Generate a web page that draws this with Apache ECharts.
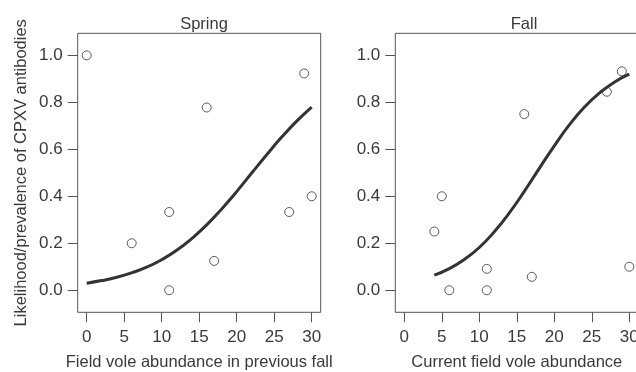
<!DOCTYPE html>
<html>
<head>
<meta charset="utf-8">
<script src="https://cdn.jsdelivr.net/npm/echarts@6/dist/echarts.min.js"></script>
<style>
  html, body { margin: 0; padding: 0; background: #fff; }
  #main { width: 636px; height: 372px; }
</style>
</head>
<body>
<div id="main"></div>
<script>
// observed points (abundance, prevalence)
var springX = [0, 6, 11, 11, 16, 17, 27, 29, 30];
var springY = [1.0, 0.2, 0.333, 0.0, 0.778, 0.125, 0.333, 0.923, 0.4];
var fallX = [4, 5, 6, 11, 11, 16, 17, 27, 29, 30];
var fallY = [0.25, 0.4, 0.0, 0.091, 0.0, 0.75, 0.057, 0.845, 0.932, 0.1];

// fitted curves
var springCurveX = [0, 2, 4, 6, 8, 10, 12, 14, 16, 18, 20, 22, 24, 26, 28, 30];
var springCurveY = [0.03, 0.041, 0.055, 0.074, 0.098, 0.13, 0.17, 0.22, 0.278, 0.346, 0.42, 0.499, 0.577, 0.652, 0.72, 0.78];
var fallCurveX = [4, 6, 8, 10, 12, 14, 16, 18, 20, 22, 24, 26, 28, 30];
var fallCurveY = [0.064, 0.092, 0.131, 0.182, 0.249, 0.329, 0.421, 0.519, 0.615, 0.704, 0.779, 0.839, 0.886, 0.92];

var xTicks = [0, 5, 10, 15, 20, 25, 30];
var yTicks = [0, 0.2, 0.4, 0.6, 0.8, 1.0];

var titles = ['Spring', 'Fall'];
var xNames = ['Field vole abundance in previous fall', 'Current field vole abundance'];
var yName = 'Likelihood/prevalence of CPXV antibodies';

var FONT = 'Liberation Sans, Arial, sans-serif';
var TXT = '#3a3a3a';

function pairs(xs, ys) {
	var out = [];
	for (var i = 0; i < xs.length; i++) out.push([xs[i], ys[i]]);
	return out;
}

var grids = [
	{ left: 77.7, top: 33.3, width: 243, height: 279 },
	{ left: 395.3, top: 33.3, width: 243, height: 279 }
];

var xAxes = [], yAxes = [], gridOpts = [];
for (var g = 0; g < 2; g++) {
	gridOpts.push({
		left: grids[g].left, top: grids[g].top, width: grids[g].width, height: grids[g].height,
		containLabel: false, outerBoundsMode: 'none',
		show: true, borderColor: '#555', borderWidth: 1, backgroundColor: 'transparent'
	});
	xAxes.push({
		type: 'value', gridIndex: g, min: -1.2, max: 31.2,
		name: xNames[g], nameLocation: 'middle', nameGap: 42,
		nameTextStyle: { fontFamily: FONT, fontSize: 16.5, color: TXT },
		axisLine: { show: false, onZero: false },
		splitLine: { show: false },
		axisTick: { show: true, inside: false, length: 10, customValues: xTicks, lineStyle: { color: '#555', width: 1 } },
		axisLabel: { customValues: xTicks, margin: 17, fontFamily: FONT, fontSize: 17, color: TXT }
	});
	yAxes.push({
		type: 'value', gridIndex: g, min: -0.094, max: 1.094,
		name: g === 0 ? yName : '', nameLocation: 'middle', nameGap: 48,
		nameTextStyle: { fontFamily: FONT, fontSize: 16.5, color: TXT },
		axisLine: { show: false, onZero: false },
		splitLine: { show: false },
		axisTick: { show: true, inside: false, length: 10, customValues: yTicks, lineStyle: { color: '#555', width: 1 } },
		axisLabel: {
			customValues: yTicks, margin: 15, fontFamily: FONT, fontSize: 17, color: TXT,
			formatter: function(v) { return Number(v).toFixed(1); }
		}
	});
}

var pointStyle = { color: 'transparent', borderColor: '#333', borderWidth: 1 };
var curveStyle = { color: '#333', width: 3 };

var option = {
	backgroundColor: '#fff',
	animation: false,
	title: [
		{ text: titles[0], left: 199, top: 11, textAlign: 'center', textStyle: { fontFamily: FONT, fontSize: 16.5, fontWeight: 'normal', color: TXT } },
		{ text: titles[1], left: 519, top: 11, textAlign: 'center', textStyle: { fontFamily: FONT, fontSize: 16.5, fontWeight: 'normal', color: TXT } }
	],
	grid: gridOpts,
	xAxis: xAxes,
	yAxis: yAxes,
	series: [
		{ type: 'scatter', xAxisIndex: 0, yAxisIndex: 0, data: pairs(springX, springY), symbol: 'circle', symbolSize: 9, itemStyle: pointStyle, z: 2 },
		{ type: 'line', xAxisIndex: 0, yAxisIndex: 0, data: pairs(springCurveX, springCurveY), smooth: true, showSymbol: false, lineStyle: curveStyle, z: 3 },
		{ type: 'scatter', xAxisIndex: 1, yAxisIndex: 1, data: pairs(fallX, fallY), symbol: 'circle', symbolSize: 9, itemStyle: pointStyle, z: 2 },
		{ type: 'line', xAxisIndex: 1, yAxisIndex: 1, data: pairs(fallCurveX, fallCurveY), smooth: true, showSymbol: false, lineStyle: curveStyle, z: 3 }
	]
};

var chart = echarts.init(document.getElementById('main'), null, { renderer: 'canvas' });
chart.setOption(option);
</script>
</body>
</html>
